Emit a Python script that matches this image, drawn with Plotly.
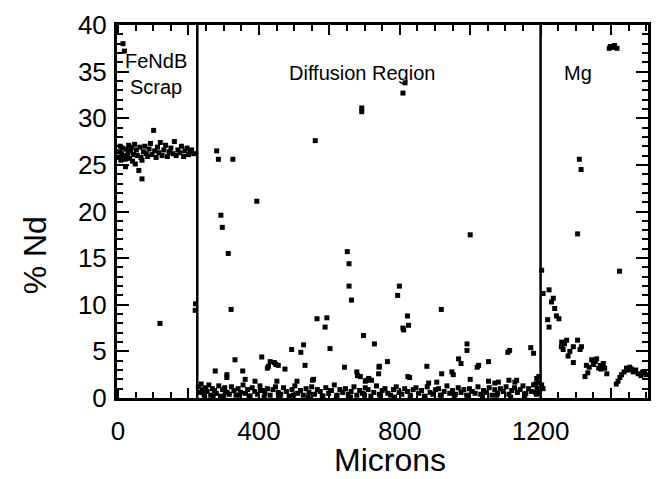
import plotly.graph_objects as go

# ---------------- data ----------------
fendb_x = [2, 4, 6, 8, 10, 12, 14, 15, 18, 20, 21, 23, 26, 28, 30, 33, 36, 38, 41, 44, 47, 49, 52, 55,
           59, 62, 65, 68, 68, 72, 76, 80, 84, 88, 92, 96, 101, 104, 108, 112, 116, 120, 125, 130,
           135, 140, 145, 150, 156, 160, 165, 170, 176, 180, 186, 190, 196, 200, 205, 209, 215, 119, 219, 220]
fendb_y = [25.8, 26.4, 27.0, 25.5, 26.2, 26.8, 38.0, 26.0, 37.2, 25.6, 24.8, 26.7, 25.9, 26.3, 27.1, 25.7,
           26.5, 26.9, 25.4, 26.1, 27.2, 25.1, 26.6, 26.0, 24.4, 26.9, 25.8, 25.5, 23.5, 26.4, 27.0, 26.2,
           25.9, 26.7, 27.3, 26.1, 28.7, 26.5, 25.8, 26.9, 26.3, 27.4, 26.0, 26.6, 27.1, 25.9, 26.4, 26.8,
           26.2, 27.5, 26.0, 26.6, 26.3, 27.0, 25.9, 26.5, 26.8, 26.1, 26.4, 26.6, 26.2, 8.0, 9.4, 10.1]

diff_x = [280, 285, 326, 394, 292, 296, 313, 321, 560, 692, 692, 809, 815, 1000, 651, 656, 656, 663, 799, 794,
          565, 593, 588, 697, 822, 809, 825, 918, 602, 493, 519, 527, 332, 408, 432, 455, 427, 474, 531, 643,
          276, 354, 309, 309, 678, 688, 702, 508, 555, 361, 389, 451, 728, 991, 991, 1172, 1180, 1107, 1112, 967,
          974, 1052, 765, 742, 740, 1024, 1020, 877, 919, 948, 952, 823, 828, 712, 720, 1000, 1052, 1080, 1110, 1132,
          1189, 1185, 811, 741, 680, 706, 882, 905, 1070, 1127, 444, 552, 424, 448, 1195, 1192,
          # low band
          228, 232, 236, 240, 244, 249, 253, 258, 263, 268, 274, 279, 286, 291, 297, 303, 310, 316, 322, 329,
          335, 341, 348, 355, 362, 368, 375, 381, 388, 396, 403, 410, 417, 424, 432, 440, 447, 455, 462, 470,
          478, 486, 494, 502, 510, 518, 526, 534, 542, 550, 558, 566, 574, 582, 590, 598, 606, 614, 622, 630,
          638, 646, 654, 662, 670, 678, 686, 694, 702, 710, 718, 726, 734, 742, 750, 758, 766, 774, 782, 790,
          798, 806, 814, 822, 830, 838, 846, 854, 862, 870, 878, 886, 894, 902, 910, 918, 926, 934, 942, 950,
          958, 966, 974, 982, 990, 998, 1006, 1014, 1022, 1030, 1038, 1046, 1054, 1062, 1070, 1078, 1086, 1094,
          1102, 1110, 1118, 1126, 1134, 1142, 1150, 1158, 1166, 1174, 1180, 1186, 1190, 1196,
          246, 270, 300, 345, 372, 415, 460, 498, 540, 580, 620, 660, 700, 745, 785, 830, 872, 915, 955, 995,
          1035, 1075, 1115, 1155, 1188]
diff_y = [26.5, 25.6, 25.6, 21.1, 19.6, 18.3, 15.5, 9.5, 27.6, 31.1, 30.7, 32.7, 33.8, 17.5, 15.7, 14.4, 12.0,
          10.5, 12.0, 11.0, 8.5, 8.6, 7.6, 6.7, 8.8, 7.5, 7.8, 9.5, 5.3, 5.2, 4.9, 5.7, 4.1, 4.4, 3.9, 3.5, 3.4,
          3.1, 3.5, 3.3, 2.9, 2.9, 2.5, 2.2, 2.8, 2.3, 1.8, 1.8, 2.0, 2.0, 1.8, 1.8, 5.8, 5.8, 5.1, 5.4, 4.8,
          4.9, 5.1, 4.2, 3.7, 3.9, 3.9, 3.4, 2.6, 3.5, 3.3, 3.4, 2.6, 2.8, 2.5, 2.3, 2.2, 2.1, 1.9, 2.0, 1.8,
          1.7, 1.9, 1.9, 2.1, 1.5, 7.3, 3.3, 2.4, 1.9, 1.6, 1.7, 1.6, 1.7, 3.8, 1.9, 3.2, 3.6, 2.3, 1.6,
          # low band
          1.2, 0.6, 1.5, 0.9, 0.4, 1.1, 0.7, 1.4, 0.3, 1.0, 0.8, 0.5, 1.3, 0.2, 0.9, 1.1, 0.6, 0.4, 1.2, 0.8,
          0.3, 1.0, 0.6, 1.4, 0.5, 0.9, 0.2, 1.1, 0.7, 0.4, 1.3, 0.8, 0.5, 1.0, 0.3, 0.9, 1.2, 0.6, 0.4, 1.1,
          0.7, 0.2, 0.9, 1.3, 0.5, 0.8, 0.3, 1.0, 0.6, 1.2, 0.4, 0.9, 0.7, 0.2, 1.1, 0.5, 0.8, 1.4, 0.3, 0.9,
          0.6, 1.0, 0.4, 0.7, 1.2, 0.3, 0.8, 0.5, 1.1, 0.9, 0.2, 0.6, 1.3, 0.4, 0.8, 1.0, 0.5, 0.3, 0.9, 1.2,
          0.6, 0.4, 1.0, 0.7, 0.3, 0.9, 1.1, 0.5, 0.8, 0.2, 1.2, 0.6, 0.4, 0.9, 1.0, 0.3, 0.7, 1.3, 0.5, 0.8,
          0.4, 1.1, 0.6, 0.9, 0.3, 1.0, 0.7, 0.5, 1.2, 0.4, 0.8, 0.6, 1.1, 0.3, 0.9, 0.5, 1.0, 0.7,
          1.2, 0.4, 0.8, 1.1, 0.6, 0.9, 1.3, 0.5, 1.0, 0.7, 1.4, 0.6, 1.0, 0.5,
          0.1, 0.2, 0.1, 0.3, 0.2, 0.1, 0.2, 0.3, 0.1, 0.2, 0.2, 0.1, 0.3, 0.2, 0.1, 0.2, 0.1, 0.3, 0.2, 0.1,
          0.2, 0.3, 0.1, 0.2, 0.4]

mg_x = [1203, 1224, 1207, 1236, 1231, 1240, 1245, 1252, 1220, 1224, 1259, 1274, 1264, 1283, 1293, 1305, 1316,
        1312, 1278, 1293, 1345, 1359, 1330, 1338, 1370, 1378, 1382, 1365, 1326, 1334, 1388, 1420, 1430, 1444,
        1453, 1463, 1477, 1490, 1500, 1437, 1470, 1485, 1203, 1207, 1398, 1417, 1405, 1410, 1395, 1310, 1315,
        1305, 1424, 1260, 1268, 1350, 1355, 1372, 1415, 1425, 1448, 1458, 1495]
mg_y = [13.7, 11.6, 11.2, 10.7, 10.3, 9.6, 8.8, 8.5, 8.4, 7.6, 5.5, 6.2, 5.2, 5.0, 5.5, 6.2, 5.5, 5.2, 4.5, 3.8,
        4.1, 4.2, 3.5, 3.3, 3.5, 3.7, 3.2, 3.2, 2.3, 2.7, 2.6, 1.8, 2.5, 3.2, 3.3, 2.8, 2.6, 2.8, 2.5, 2.8, 3.0,
        2.4, 1.4, 1.0, 37.7, 37.5, 37.6, 37.8, 37.5, 25.6, 24.5, 17.6, 13.6, 6.0, 5.8, 3.6, 3.9, 3.1, 1.5, 2.2,
        3.0, 3.1, 2.7]

boundaries = [225, 1200]
region_labels = ["FeNdB<br>Scrap", "Diffusion Region", "Mg"]
region_label_x = [108, 693, 1307]
region_label_y = [34.7, 34.9, 34.9]

x_tickvals = [0, 200, 400, 600, 800, 1000, 1200, 1400]
x_ticktext = ["0", "", "400", "", "800", "", "1200", ""]
y_tickvals = [0, 5, 10, 15, 20, 25, 30, 35, 40]

FONT = "Liberation Sans, Arial, Helvetica, sans-serif"

fig = go.Figure()
marker = dict(symbol="square", size=5, color="black", line=dict(width=0))
for xs, ys in [(fendb_x, fendb_y), (diff_x, diff_y), (mg_x, mg_y)]:
    fig.add_trace(go.Scatter(x=xs, y=ys, mode="markers", marker=marker,
                             showlegend=False, cliponaxis=False))

for b in boundaries:
    fig.add_shape(type="line", xref="x", yref="paper", x0=b, x1=b, y0=0, y1=1,
                  line=dict(color="black", width=2.5))

for t, x, y in zip(region_labels, region_label_x, region_label_y):
    fig.add_annotation(x=x, y=y, text=t, showarrow=False,
                       font=dict(family=FONT, size=20, color="black"))

# axis titles as paper annotations for precise placement
fig.add_annotation(xref="paper", yref="paper", x=0.514, y=-0.166, text="Microns",
                   showarrow=False, xanchor="center", yanchor="middle",
                   font=dict(family=FONT, size=32, color="black"))
fig.add_annotation(xref="paper", yref="paper", x=-0.154, y=0.383, text="% Nd",
                   showarrow=False, xanchor="center", yanchor="middle", textangle=-90,
                   font=dict(family=FONT, size=32, color="black"))

# page body has an 8px default margin: figure is shifted accordingly
fig.update_layout(
    width=654, height=471,
    margin=dict(l=109, r=14, t=17, b=81, autoexpand=False),
    paper_bgcolor="white", plot_bgcolor="white",
    font=dict(family=FONT, color="black"),
)
fig.update_xaxes(
    range=[-3, 1505], showgrid=False, zeroline=False, automargin=False,
    showline=True, linecolor="black", linewidth=3, mirror="allticks",
    ticks="inside", ticklen=10, tickwidth=2, tickcolor="black",
    tickvals=x_tickvals, ticktext=x_ticktext,
    tickfont=dict(size=26, family=FONT),
    ticklabelstandoff=8,
    minor=dict(dtick=50, ticks="inside", ticklen=6, tickwidth=1.5, tickcolor="black"),
)
fig.update_yaxes(
    range=[0, 40], showgrid=False, zeroline=False, automargin=False,
    showline=True, linecolor="black", linewidth=3, mirror="allticks",
    ticks="inside", ticklen=12, tickwidth=2, tickcolor="black",
    tickvals=y_tickvals,
    tickfont=dict(size=26, family=FONT),
    ticklabelstandoff=2,
    minor=dict(dtick=1, ticks="inside", ticklen=6, tickwidth=1.5, tickcolor="black"),
)

fig.write_html("out.html")
